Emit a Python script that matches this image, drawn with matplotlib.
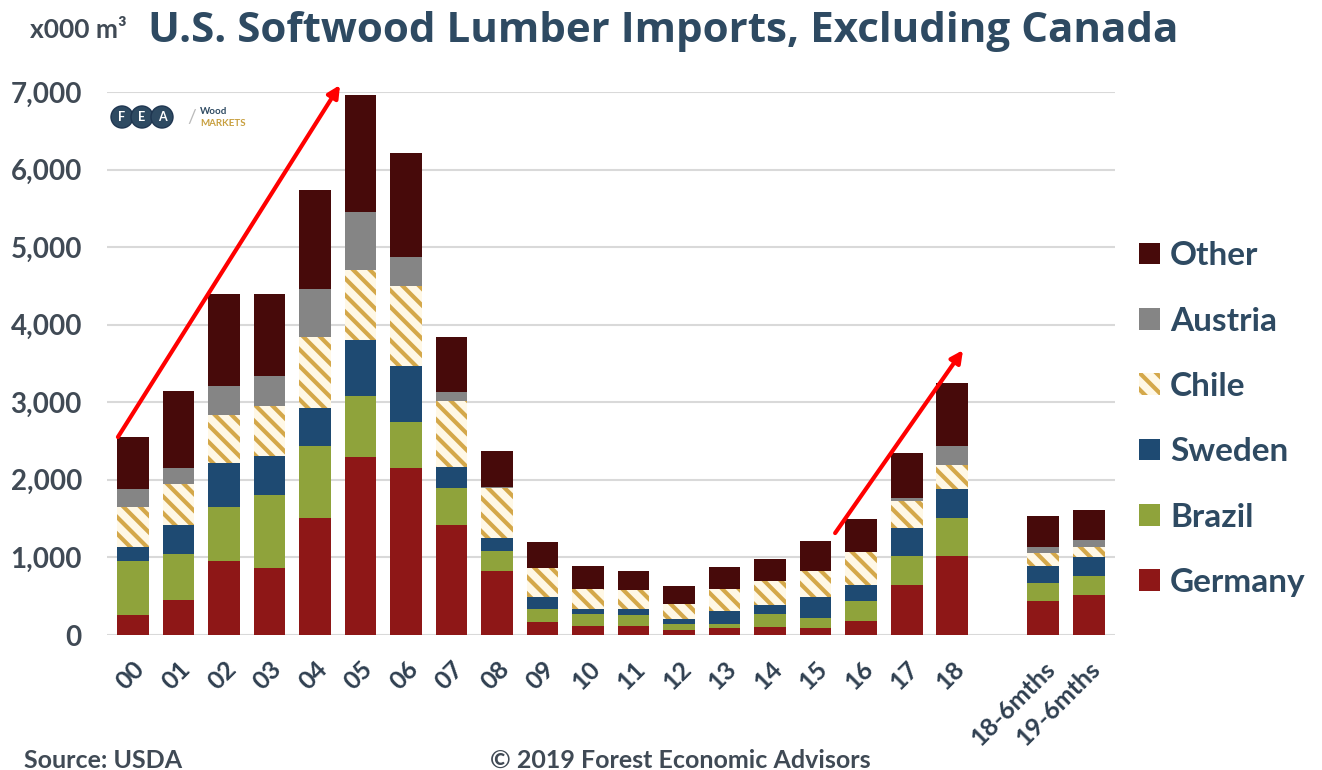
import matplotlib
matplotlib.use("Agg")
import matplotlib.pyplot as plt
from matplotlib.patches import Circle
import numpy as np

plt.rcParams['font.family'] = ['Lato', 'DejaVu Sans']
plt.rcParams['hatch.linewidth'] = 3.0

categories = ["00", "01", "02", "03", "04", "05", "06", "07", "08", "09",
              "10", "11", "12", "13", "14", "15", "16", "17", "18",
              "18-6mths", "19-6mths"]
positions = list(range(19)) + [20, 21]

germany = [260, 454, 950, 858, 1507, 2295, 2147, 1423, 821, 169, 114, 114, 63, 84, 97, 84, 183, 647, 1013, 438, 519]
brazil  = [690, 589, 696, 950, 927, 788, 598, 478, 268, 169, 160, 139, 85, 64, 177, 140, 255, 366, 498, 234, 247]
sweden  = [186, 371, 565, 496, 496, 719, 718, 269, 163, 147, 64, 85, 63, 160, 118, 261, 209, 370, 374, 222, 234]
chile   = [510, 533, 631, 654, 909, 904, 1034, 843, 649, 380, 253, 240, 190, 283, 304, 346, 417, 340, 306, 161, 136]
austria = [232, 209, 371, 380, 626, 751, 371, 116, 10, 0, 0, 0, 0, 0, 0, 0, 0, 43, 247, 85, 90]
other   = [672, 987, 1177, 1052, 1270, 1506, 1344, 710, 463, 329, 295, 253, 232, 287, 283, 384, 425, 583, 805, 400, 391]

series = [
    ("Germany", germany, dict(color="#8E1717")),
    ("Brazil", brazil, dict(color="#8FA33B")),
    ("Sweden", sweden, dict(color="#1E4A72")),
    ("Chile", chile, dict(facecolor="#FFF8E6", edgecolor="#D4A84A", hatch="\\\\", linewidth=0)),
    ("Austria", austria, dict(color="#858585")),
    ("Other", other, dict(color="#470A0A")),
]

fig = plt.figure(figsize=(13.22, 7.70), dpi=100)
ax = fig.add_axes([107/1322, 1 - 635/770, (1115 - 107)/1322, (635 - 92)/770])

bottom = np.zeros(len(categories))
handles = {}
for name, vals, style in series:
    v = np.array(vals, dtype=float)
    bars = ax.bar(positions, v, width=0.7, bottom=bottom, label=name, zorder=3, **style)
    handles[name] = bars
    bottom += v

ax.set_xlim(-0.57, 21.58)
ax.set_ylim(0, 7000)
yt = np.arange(0, 7001, 1000)
ax.set_yticks(yt)
ax.set_yticklabels([f"{int(t):,}" for t in yt], fontsize=20, fontweight='bold', color="#404A55")
ax.set_xticks(positions)
ax.set_xticklabels(categories, rotation=45, ha='right', rotation_mode='anchor',
                   fontsize=18, fontweight='bold', color="#2F3F50")
ax.tick_params(axis='y', length=0, pad=18)
ax.tick_params(axis='x', length=0, pad=16)
ax.grid(axis='y', color="#D9D9D9", linewidth=1.5, zorder=0)
for s in ax.spines.values():
    s.set_visible(False)

# legend (reverse order)
order = ["Other", "Austria", "Chile", "Sweden", "Brazil", "Germany"]
leg_handles = [handles[n] for n in order]
leg = fig.legend(leg_handles, order, loc='upper left', bbox_to_anchor=(1126/1322, 1 - 228/770),
                 frameon=False, fontsize=24, handlelength=0.62, handleheight=0.62,
                 labelspacing=1.09, handletextpad=0.3, borderaxespad=0)
for t in leg.get_texts():
    t.set_fontweight('bold')
    t.set_color("#2E4A62")

# Title and unit
fig.text(148/1322, 1 - 32/770, "U.S. Softwood Lumber Imports, Excluding Canada",
         fontsize=30.3, fontweight='bold', color="#2E4A62", va='center', ha='left',
         family=['Open Sans', 'DejaVu Sans'])
fig.text(30/1322, 1 - 30/770, "x000 m³", fontsize=19, fontweight='bold',
         color="#404A55", va='center', ha='left')

# Footer
fig.text(24/1322, 1 - 760/770, "Source: USDA", fontsize=18, fontweight='bold',
         color="#404A55", va='center', ha='left')
fig.text(680/1322, 1 - 760/770, "© 2019 Forest Economic Advisors", fontsize=18,
         fontweight='bold', color="#404A55", va='center', ha='center')

# Red trend arrows
arrow_kw = dict(arrowstyle='-|>', color='#FF0000', lw=3, mutation_scale=18, shrinkA=0, shrinkB=0)
ax.annotate("", xy=(4.55, 7090), xytext=(-0.33, 2552), arrowprops=arrow_kw,
            annotation_clip=False, zorder=5)
ax.annotate("", xy=(18.24, 3673), xytext=(15.43, 1314), arrowprops=arrow_kw,
            annotation_clip=False, zorder=5)

# Logo (FEA / Wood Markets)
for i, letter in enumerate("FEA"):
    cx = (122 + i * 20) / 1322
    cy = 1 - 117/770
    fig.patches.append(Circle((cx * 1322, cy * 770), 11,
                              transform=None, facecolor="#2E4A62", edgecolor="#1E3550",
                              zorder=6))
    fig.text(cx, cy, letter, fontsize=9, fontweight='bold', color='white',
             ha='center', va='center', zorder=7)
fig.text(192/1322, 1 - 117/770, "/", fontsize=14, color="#BBBBBB", ha='center', va='center')
fig.text(200/1322, 1 - 112/770, "Wood", fontsize=7, fontweight='bold', color="#2E4A62",
         ha='left', va='center')
fig.text(200/1322, 1 - 124/770, "MARKETS", fontsize=7, fontweight='bold', color="#C8A040",
         ha='left', va='center')

fig.savefig("out.png", dpi=100)
